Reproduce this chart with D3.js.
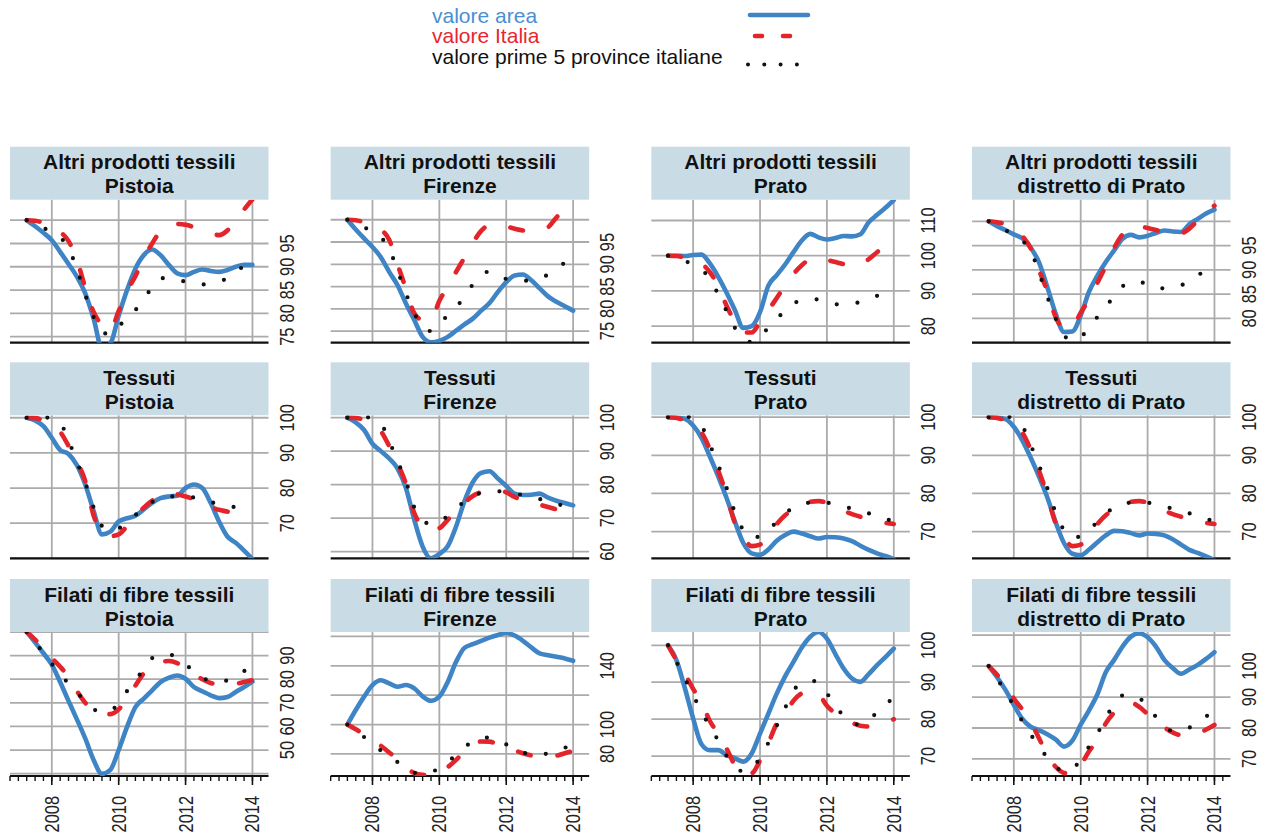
<!DOCTYPE html>
<html>
<head>
<meta charset="utf-8">
<script src="https://cdn.jsdelivr.net/npm/d3@7"></script>
<style>
  body { margin: 0; background: #fff; }
  svg { display: block; }
  text { font-family: "Liberation Sans", Arial, Helvetica, sans-serif; }
</style>
</head>
<body>
<svg id="chart" width="1262" height="837"></svg>
<script>
// Quarterly time positions shared by every series
const quarters = [2007.25, 2007.5, 2007.75, 2008, 2008.25, 2008.5, 2008.75, 2009,
  2009.25, 2009.5, 2009.75, 2010, 2010.25, 2010.5, 2010.75, 2011,
  2011.25, 2011.5, 2011.75, 2012, 2012.25, 2012.5, 2012.75, 2013,
  2013.25, 2013.5, 2013.75, 2014];

const products = ["Altri prodotti tessili", "Tessuti", "Filati di fibre tessili"];
const areas = ["Pistoia", "Firenze", "Prato", "distretto di Prato"];
const yearTicks = [2008, 2010, 2012, 2014];

const legendLabels = ["valore area", "valore Italia", "valore prime 5 province italiane"];

// ---- Altri prodotti tessili ----
const altriPistoiaArea  = [100, 98.7, 97.3, 95.7, 93.2, 90.6, 87.9, 84.3, 78.9, 72.5, 73.5, 79.5, 85, 89.6, 92.5, 93.7, 92.5, 90.4, 88.6, 88.2, 88.9, 89.4, 89.1, 88.9, 89.3, 90, 90.4, 90.4];
const altriPistoiaItalia = [100, 99.9, 99.4, 98.6, 97.5, 95.5, 91.5, 85.5, 80.3, 77.5, 76.5, 80.5, 84.8, 88, 91.8, 95, 97.6, 98.8, 99.2, 99, 98.5, 97.8, 97.2, 96.8, 97.8, 100, 102.3, 104.5];
const altriPistoiaTop5  = [100, 99.3, 98.4, 97.2, 96.3, 94, 89.5, 84, 79.2, 76, 75.5, 77.2, 79, 80.7, 83.2, 85.5, 87.5, 87.6, 87.2, 86.8, 86.4, 86.2, 86.4, 86.9, 87.5, 88.8, 90.2, 91];

const altriFirenzeArea  = [100, 97.8, 95.8, 93.9, 91.6, 88.3, 85.3, 81.2, 77.5, 73.7, 72.5, 72.8, 73.7, 75.1, 76.5, 77.8, 79.6, 81.3, 83.8, 86, 87.5, 87.7, 86.4, 84.6, 82.8, 81.6, 80.6, 79.6];
const altriFirenzeItalia = [100, 99.9, 99.4, 98.7, 97.8, 95.5, 90, 84.5, 79, 77.5, 77.5, 81.8, 85, 88.3, 91.5, 94.8, 97.5, 98.8, 98.9, 98.5, 98, 97.6, 97.4, 97.6, 98.3, 100.5, 102.6, 104.5];
const altriFirenzeTop5  = [100, 99.3, 98.4, 97, 96, 93.5, 88.5, 83.5, 79, 76, 75, 76.8, 78.5, 80.5, 82.5, 85.5, 87.5, 88.4, 87.8, 86.7, 86.3, 86.3, 86.4, 86.8, 87.7, 88.8, 90.4, 91.8];

const altriPratoArea  = [100, 100, 99.9, 100.2, 100.3, 97.8, 94, 89.5, 84.5, 79.5, 80, 84, 91.5, 94.5, 97.5, 101, 104.3, 106.2, 105.2, 104.6, 105, 105.6, 105.5, 106.1, 109.5, 111.6, 113.6, 115.8];
const altriPratoItalia = [100, 99.9, 99.5, 98.8, 97.8, 95.3, 91.5, 85.8, 81.2, 78.2, 78.2, 81.2, 84.5, 88, 91.5, 94.8, 97.3, 99, 99.4, 98.8, 98.2, 97.6, 97.1, 97.3, 99, 101, 102.8, 104.6];
const altriPratoTop5  = [100, 99.6, 98.6, 97.3, 96, 93.5, 89, 84.3, 79.5, 76.5, 75.5, 77.2, 79.5, 82, 84.5, 86.4, 87.4, 87.8, 87.5, 86.8, 86.2, 86.2, 86.5, 86.8, 87.6, 88.6, 89.6, 90.5];

const altriDistrettoArea  = [100, 99, 98.2, 97.3, 96.5, 94.6, 91.6, 86.5, 81, 77.2, 77.3, 80.6, 85.5, 88.8, 91.6, 94, 96.4, 97.2, 96.7, 97, 97.6, 98.1, 97.9, 97.8, 99.4, 100.5, 101.6, 102.4];
const altriDistrettoItalia = [100, 99.8, 99.4, 98.5, 97, 94.5, 90, 85.6, 80.3, 78, 78.2, 81.2, 83.9, 87.3, 90.8, 94.5, 97.3, 98.8, 99, 98.6, 98.2, 97.7, 97.3, 97.5, 98.5, 100.2, 102, 103.2];
const altriDistrettoTop5  = [100, 99.2, 98.2, 97, 96, 94, 89.5, 84.5, 80, 76.5, 75.5, 76.2, 78, 80.3, 82.2, 84.8, 86.6, 87.5, 87.6, 86.8, 86.2, 86.2, 86.5, 86.8, 87.8, 88.8, 90.2, 91.8];

// ---- Tessuti ----
const tessutiPistoiaArea  = [100, 99.2, 97.6, 94.3, 90.8, 89.7, 86.5, 81, 73.5, 66.8, 67.6, 70.5, 71.4, 72.1, 73.9, 75.8, 77.1, 77.6, 77.8, 80, 81, 80, 75.8, 70.5, 66.2, 64.4, 62.2, 59.8];
const tessutiPistoiaItalia = [100, 99.9, 99.3, 98, 96, 92, 87.5, 82, 72.2, 67.5, 66.3, 66.8, 69.2, 72, 74.4, 76.4, 77.8, 78.4, 78.2, 77.6, 76.8, 75.6, 74.6, 73.8, 73.3, 72.7, 72, 71.2];
const tessutiPistoiaTop5  = [100, 100.3, 100.3, 99.5, 98.5, 93.5, 87.5, 81.5, 74.5, 69.2, 67.8, 68.5, 70.2, 72.3, 74.4, 76, 77.2, 77.6, 77.6, 77.4, 77.3, 76.8, 76, 75.5, 75, 74.5, 74, 73.5];

const tessutiFirenzeArea  = [100, 98.6, 96.3, 92.2, 90, 87.8, 84.8, 79, 69.5, 61.5, 58, 59.3, 61.6, 67.5, 75, 80.7, 83.5, 84, 81.8, 79.6, 77.3, 76.9, 77, 77.3, 76.1, 75.2, 74.5, 73.8];
const tessutiFirenzeItalia = [100, 99.9, 99.3, 98, 96, 91.5, 86.3, 80.3, 71.5, 67.6, 66.5, 67, 69.5, 72, 74.5, 76.6, 77.8, 78.5, 78.4, 77.7, 76.3, 75.4, 74.5, 74, 73.3, 72.6, 71.9, 71.2];
const tessutiFirenzeTop5  = [100, 100.3, 100.3, 99.6, 98.3, 93, 87, 81, 73.2, 69.4, 68.2, 69, 70.6, 72.8, 75, 76.7, 77.5, 77.8, 78, 77.8, 77.3, 76.9, 76.3, 75.7, 75, 74.3, 73.6, 73];

const tessutiPratoArea  = [100, 99.9, 99.6, 97.8, 94.6, 89.7, 84.5, 78.8, 72.6, 67, 64.3, 63.9, 65.3, 67.6, 69.1, 70, 69.5, 68.8, 68.2, 68.6, 68.5, 68.2, 67.5, 66.3, 65.2, 64.3, 63.6, 62.8];
const tessutiPratoItalia = [100, 99.8, 99.2, 98, 96, 91.6, 86, 79.6, 72.2, 68.5, 66.2, 66.6, 69.1, 72, 74.3, 75.8, 77, 77.8, 78, 77.6, 76.5, 75.5, 74.6, 73.9, 73.2, 72.6, 72.3, 72];
const tessutiPratoTop5  = [100, 100.2, 100.2, 99.6, 97.8, 92.8, 87.5, 81.5, 75, 70.4, 68.5, 68.7, 70.5, 72.5, 74.7, 76.3, 77.3, 77.6, 77.7, 77.6, 77.1, 76.6, 76, 75.4, 74.8, 74.1, 73.3, 72.9];

const tessutiDistrettoArea  = [100, 99.9, 99.5, 97.5, 94, 89.5, 84.5, 79, 72.5, 67, 64.2, 63.8, 65.3, 67.2, 69, 70.2, 70.1, 69.6, 69, 69.5, 69.4, 69, 68, 66.6, 65.2, 64.4, 63.5, 62.5];
const tessutiDistrettoItalia = [100, 99.8, 99.2, 98, 96, 91.6, 86, 79.6, 72.2, 68.5, 66.2, 66.6, 69.1, 72, 74.3, 75.8, 77, 77.8, 78, 77.6, 76.5, 75.5, 74.6, 73.9, 73.2, 72.6, 72.3, 72];
const tessutiDistrettoTop5  = [100, 100.2, 100.2, 99.6, 97.8, 92.8, 87.5, 81.5, 75, 70.4, 68.5, 68.7, 70.5, 72.5, 74.7, 76.3, 77.3, 77.6, 77.7, 77.6, 77.1, 76.6, 76, 75.4, 74.8, 74.1, 73.3, 72.9];

// ---- Filati di fibre tessili ----
const filatiPistoiaArea  = [100, 95.6, 91, 86.2, 78.8, 70.8, 63, 54.9, 45.8, 39.9, 41.6, 50, 59.8, 68.2, 71.8, 75.3, 78.8, 80.6, 81.6, 80.2, 76.7, 74.9, 73.2, 72, 72.5, 74.6, 76.7, 79];
const filatiPistoiaItalia = [100, 96.8, 93, 89, 85.3, 81, 75, 70, 67, 65.4, 65.2, 67.2, 72, 77.3, 82.5, 85.8, 87.2, 87.7, 86.8, 84.5, 82, 80, 78.4, 77.7, 77.5, 78, 78.8, 79.6];
const filatiPistoiaTop5  = [100, 95.5, 91.2, 86.5, 82, 78.2, 74.3, 70.8, 67.3, 66.2, 66.6, 70, 75, 79.5, 84.3, 88.9, 90.5, 90.5, 89, 86.2, 83.5, 80.8, 79.2, 79, 79.5, 81, 83.4, 86];

const filatiFirenzeArea  = [100, 109.9, 119, 126.9, 130.2, 128, 125.7, 126.9, 124.6, 119.2, 116.2, 119, 129, 142.7, 152.2, 154.7, 157, 159.2, 161, 162.4, 160.6, 157, 152.5, 148.4, 147.2, 146.1, 145, 143.4];
const filatiFirenzeItalia = [100, 96.8, 93.2, 89.5, 85.6, 81, 76.7, 71, 67, 65.8, 65.6, 67.2, 71, 76, 81.5, 86, 88.5, 88.4, 86.5, 84.5, 82.5, 80.5, 79, 78.4, 78.2, 78.8, 80.5, 82];
const filatiFirenzeTop5  = [100, 96, 91.5, 87, 82.3, 78, 74.5, 70.5, 67.3, 66.5, 67.5, 70.5, 74.5, 79.5, 84.5, 88.5, 90.8, 91.2, 89, 86.5, 83.5, 81, 79.8, 79.8, 80.3, 82, 84.2, 86];

const filatiPratoArea  = [100, 96, 88.5, 80.2, 73.2, 71.6, 71.6, 70.3, 69.4, 68.5, 70.7, 76.1, 81.5, 86.9, 91.6, 95.5, 99.4, 102.3, 103.6, 101.8, 97.7, 93.7, 91, 90.1, 92.2, 94.6, 96.8, 99.1];
const filatiPratoItalia = [100, 96, 92.3, 88.2, 84.5, 79.5, 76, 72, 67.5, 65, 65.3, 68.8, 73.5, 78.8, 81.5, 85, 87, 87.6, 86.8, 83.6, 81.6, 80.2, 79, 78.2, 78, 78.5, 79.2, 80];
const filatiPratoTop5  = [100, 95.5, 91, 86.5, 82, 78, 74.2, 70, 67.2, 65.8, 66.8, 69.5, 73.6, 78.2, 83, 87.7, 89.8, 90.4, 90, 87, 83.8, 80.8, 79, 78.5, 79.8, 81.8, 83.8, 86];

const filatiDistrettoArea  = [100, 96.4, 92.3, 87.5, 83, 80.4, 79.3, 78, 76.3, 74, 75.9, 81.1, 85.7, 90.9, 98, 102, 106.3, 109.5, 110.6, 109.3, 106.3, 102, 99.4, 97.5, 98.9, 100.4, 102.3, 104.5];
const filatiDistrettoItalia = [100, 97.2, 93.5, 89.5, 86, 82, 76.8, 71.2, 67.5, 65.5, 65.2, 68, 72.5, 76.1, 81.5, 85, 87.4, 88.2, 86.8, 84.5, 82.3, 80.2, 78.6, 77.7, 77.7, 78.2, 79.5, 81];
const filatiDistrettoTop5  = [100, 96, 91.5, 87.2, 82.2, 78, 74, 70.5, 67.5, 66, 66.8, 69.8, 74, 78.2, 83.2, 87.8, 90.5, 90.6, 89.7, 87, 83.6, 81, 78.9, 79.2, 80.1, 82, 83.7, 86];

// Y axis limits, gridline values and labelled values per panel (row by row)
const yLimits = [
  [73.7, 104.4], [72.4, 104.5], [75.3, 115.9], [75, 104.45],
  [60, 100.7], [58, 100.7], [63, 100.5], [63, 100.5],
  [39, 100], [65, 163], [64.6, 103.6], [64.5, 111]
];
const yGridValues = [
  [75, 80, 85, 90, 95, 100], [75, 80, 85, 90, 95, 100], [80, 90, 100, 110], [75, 80, 85, 90, 95, 100],
  [60, 70, 80, 90, 100], [60, 70, 80, 90, 100], [70, 80, 90, 100], [70, 80, 90, 100],
  [40, 50, 60, 70, 80, 90, 100], [80, 100, 120, 140, 160], [70, 80, 90, 100], [70, 80, 90, 100, 110]
];
const yLabelValues = [
  [75, 80, 85, 90, 95], [75, 80, 85, 90, 95], [80, 90, 100, 110], [80, 85, 90, 95],
  [70, 80, 90, 100], [60, 70, 80, 90, 100], [70, 80, 90, 100], [70, 80, 90, 100],
  [50, 60, 70, 80, 90], [80, 100, 140], [70, 80, 90, 100], [70, 80, 90, 100]
];

const seriesGrid = [
  [[altriPistoiaArea, altriPistoiaItalia, altriPistoiaTop5],
   [altriFirenzeArea, altriFirenzeItalia, altriFirenzeTop5],
   [altriPratoArea, altriPratoItalia, altriPratoTop5],
   [altriDistrettoArea, altriDistrettoItalia, altriDistrettoTop5]],
  [[tessutiPistoiaArea, tessutiPistoiaItalia, tessutiPistoiaTop5],
   [tessutiFirenzeArea, tessutiFirenzeItalia, tessutiFirenzeTop5],
   [tessutiPratoArea, tessutiPratoItalia, tessutiPratoTop5],
   [tessutiDistrettoArea, tessutiDistrettoItalia, tessutiDistrettoTop5]],
  [[filatiPistoiaArea, filatiPistoiaItalia, filatiPistoiaTop5],
   [filatiFirenzeArea, filatiFirenzeItalia, filatiFirenzeTop5],
   [filatiPratoArea, filatiPratoItalia, filatiPratoTop5],
   [filatiDistrettoArea, filatiDistrettoItalia, filatiDistrettoTop5]]
];

// ---- layout and style ----
const svg = d3.select("#chart");
const BLUE = "#3f85c5", RED = "#e3252b", INK = "#111", GRID = "#ababab", STRIP = "#c9dce6";
const panelW = 258.5, colStep = 320.67, left0 = 10;
const stripTops = [146.7, 362.3, 579], stripH = 53;
const plotBottoms = [342.7, 558.3, 776];
const xDomain = [2006.75, 2014.48];
const minorTicks = d3.range(2006.75, 2014.3, 0.25);

const styles = [
  { color: BLUE, width: 4.6, dash: null },
  { color: RED, width: 4.6, dash: "13,27" },
  { color: INK, width: 4.2, dash: "0,20.8" }
];

seriesGrid.forEach((rowSeries, r) => {
  rowSeries.forEach((trio, c) => {
    const idx = r * 4 + c;
    const left = left0 + c * colStep, right = left + panelW;
    const stripTop = stripTops[r], top = stripTop + stripH, bottom = plotBottoms[r];
    const x = d3.scaleLinear().domain(xDomain).range([left, right]);
    const y = d3.scaleLinear().domain(yLimits[idx]).range([bottom, top]);
    const g = svg.append("g");

    const clipId = `clip-${r}-${c}`;
    svg.append("clipPath").attr("id", clipId)
      .append("rect").attr("x", left).attr("y", top)
      .attr("width", panelW).attr("height", bottom - top);

    // horizontal gridlines
    g.append("g").selectAll("line").data(yGridValues[idx]).join("line")
      .attr("x1", left).attr("x2", right)
      .attr("y1", d => y(d)).attr("y2", d => y(d))
      .attr("stroke", GRID).attr("stroke-width", 1.8);

    // vertical gridlines at even years
    g.append("g").selectAll("line").data(yearTicks).join("line")
      .attr("x1", d => x(d)).attr("x2", d => x(d))
      .attr("y1", top).attr("y2", bottom)
      .attr("stroke", GRID).attr("stroke-width", 1.8);

    // baseline
    g.append("line").attr("x1", left).attr("x2", right)
      .attr("y1", bottom).attr("y2", bottom)
      .attr("stroke", INK).attr("stroke-width", 2.2);

    // series
    const line = d3.line()
      .x((d, i) => x(quarters[i]))
      .y(d => y(d))
      .curve(d3.curveMonotoneX);
    const lg = g.append("g").attr("clip-path", `url(#${clipId})`);
    trio.forEach((vals, k) => {
      const st = styles[k];
      const p = lg.append("path").datum(vals)
        .attr("d", line)
        .attr("fill", "none")
        .attr("stroke", st.color)
        .attr("stroke-width", st.width)
        .attr("stroke-linecap", "round")
        .attr("stroke-linejoin", "round");
      if (st.dash) p.attr("stroke-dasharray", st.dash);
    });

    // strip with two-line title
    g.append("rect").attr("x", left).attr("y", stripTop)
      .attr("width", panelW).attr("height", stripH).attr("fill", STRIP);
    const title = g.append("text").attr("text-anchor", "middle")
      .attr("font-weight", "bold").attr("font-size", 21).attr("fill", INK);
    title.append("tspan").attr("x", left + panelW / 2).attr("y", stripTop + 22.6).text(products[r]);
    title.append("tspan").attr("x", left + panelW / 2).attr("y", stripTop + 46.6).text(areas[c]);

    // right-hand y labels, rotated
    g.append("g").selectAll("text").data(yLabelValues[idx]).join("text")
      .attr("transform", d => `translate(${right + 25},${y(d)}) rotate(-90) scale(0.82,1)`)
      .attr("text-anchor", "middle")
      .attr("font-size", 20).attr("fill", "#222")
      .text(d => d);

    // bottom axis only on the last row
    if (r === 2) {
      const ax = g.append("g");
      ax.selectAll("line.minor").data(minorTicks).join("line")
        .attr("x1", d => x(d)).attr("x2", d => x(d))
        .attr("y1", bottom).attr("y2", bottom + 5)
        .attr("stroke", INK).attr("stroke-width", 1.4);
      ax.selectAll("line.major").data(yearTicks).join("line")
        .attr("x1", d => x(d)).attr("x2", d => x(d))
        .attr("y1", bottom).attr("y2", bottom + 9)
        .attr("stroke", INK).attr("stroke-width", 1.6);
      ax.selectAll("text").data(yearTicks).join("text")
        .attr("transform", d => `translate(${x(d) + 7},796) rotate(-90) scale(0.82,1)`)
        .attr("text-anchor", "end")
        .attr("font-size", 20).attr("fill", "#222")
        .text(d => d);
    }
  });
});

// ---- legend ----
const legend = svg.append("g");
const legendColors = ["#4a8fd3", "#e8262e", INK];
legendLabels.forEach((t, i) => {
  legend.append("text").attr("x", 432).attr("y", 22.7 + i * 20.6)
    .attr("font-size", 21).attr("fill", legendColors[i]).text(t);
});
legend.append("line").attr("x1", 750).attr("x2", 808).attr("y1", 15).attr("y2", 15)
  .attr("stroke", BLUE).attr("stroke-width", 4.6).attr("stroke-linecap", "round");
legend.append("line").attr("x1", 755).attr("x2", 793).attr("y1", 36).attr("y2", 36)
  .attr("stroke", RED).attr("stroke-width", 4.6).attr("stroke-linecap", "round")
  .attr("stroke-dasharray", "7,21");
legend.append("line").attr("x1", 748).attr("x2", 798).attr("y1", 64.5).attr("y2", 64.5)
  .attr("stroke", INK).attr("stroke-width", 4).attr("stroke-linecap", "round")
  .attr("stroke-dasharray", "0,16.3");
</script>
</body>
</html>
